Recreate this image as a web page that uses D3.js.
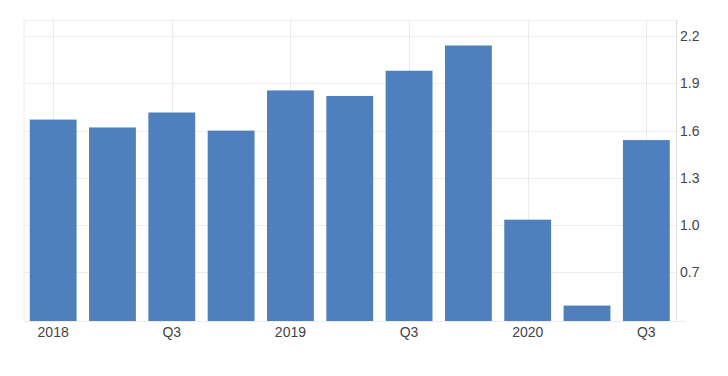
<!DOCTYPE html>
<html>
<head>
<meta charset="utf-8">
<style>
  body { margin: 0; background: #fff; }
  svg text { font-family: "Liberation Sans", Arial, sans-serif; }
</style>
</head>
<body>
<svg id="chart" width="728" height="376"></svg>
<script src="https://d3js.org/d3.v7.min.js"></script>
<script>
var quarters = ['2018Q1', '2018Q2', '2018Q3', '2018Q4', '2019Q1', '2019Q2', '2019Q3', '2019Q4', '2020Q1', '2020Q2', '2020Q3']
var values = [1.67, 1.62, 1.715, 1.60, 1.855, 1.82, 1.98, 2.14, 1.035, 0.49, 1.54]
var xLabels = ['2018', '', 'Q3', '', '2019', '', 'Q3', '', '2020', '', 'Q3']
var yTicks = [0.7, 1.0, 1.3, 1.6, 1.9, 2.2]

var margin = {top: 19.5, right: 52, bottom: 55, left: 23.5},
    width = 728,
    height = 376,
    barColor = '#4f80bd',
    gridColor = '#ececec'

var svg = d3.select('#chart')

var x = d3.scaleBand()
  .domain(quarters)
  .range([margin.left, width - margin.right])
  .paddingInner(0.21)
  .paddingOuter(0.105)

var y = d3.scaleLinear()
  .domain([0.392, 2.305])
  .range([height - margin.bottom, margin.top])

// grid
var grid = svg.append('g')
grid.selectAll('.hgrid')
  .data(yTicks.concat([2.305]))
  .enter().append('line')
  .attr('x1', margin.left).attr('x2', width - margin.right)
  .attr('y1', d => Math.round(y(d)) + 0.5).attr('y2', d => Math.round(y(d)) + 0.5)
  .attr('stroke', gridColor)

grid.selectAll('.vgrid')
  .data(quarters.filter((q, i) => xLabels[i] !== ''))
  .enter().append('line')
  .attr('x1', d => Math.round(x(d) + x.bandwidth() / 2) + 0.5)
  .attr('x2', d => Math.round(x(d) + x.bandwidth() / 2) + 0.5)
  .attr('y1', margin.top).attr('y2', height - margin.bottom)
  .attr('stroke', gridColor)

grid.append('line')
  .attr('x1', margin.left + 0.5).attr('x2', margin.left + 0.5)
  .attr('y1', margin.top).attr('y2', height - margin.bottom)
  .attr('stroke', gridColor)

// bars
svg.append('g').selectAll('rect')
  .data(values)
  .enter().append('rect')
  .attr('x', (d, i) => x(quarters[i]))
  .attr('width', x.bandwidth())
  .attr('y', d => y(d))
  .attr('height', d => y.range()[0] - y(d))
  .attr('fill', barColor)

// right axis line and bottom line
svg.append('line')
  .attr('x1', width - margin.right + 0.5).attr('x2', width - margin.right + 0.5)
  .attr('y1', margin.top).attr('y2', height - margin.bottom)
  .attr('stroke', '#e2e2e2')
svg.append('line')
  .attr('x1', margin.left).attr('x2', width - margin.right + 10)
  .attr('y1', height - margin.bottom + 0.5).attr('y2', height - margin.bottom + 0.5)
  .attr('stroke', '#eeeeee')

// y labels
svg.append('g').selectAll('text')
  .data(yTicks)
  .enter().append('text')
  .attr('x', width - margin.right + 4)
  .attr('y', d => y(d))
  .attr('dy', '0.35em')
  .attr('font-size', 14)
  .attr('fill', '#444')
  .text(d => d.toFixed(1))

// x labels
svg.append('g').selectAll('text')
  .data(quarters)
  .enter().append('text')
  .attr('x', d => x(d) + x.bandwidth() / 2)
  .attr('y', height - margin.bottom + 16)
  .attr('text-anchor', 'middle')
  .attr('font-size', 14)
  .attr('fill', '#444')
  .text((d, i) => xLabels[i])
</script>
</body>
</html>
